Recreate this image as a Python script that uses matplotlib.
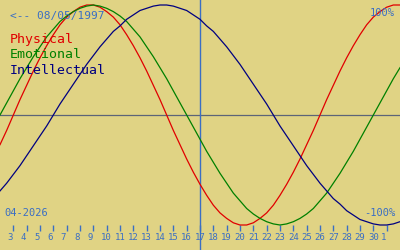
import numpy as np
import matplotlib
matplotlib.use("Agg")
import matplotlib.pyplot as plt

# sample positions: April 2026, every half day from the 2nd to May 2nd (=32)
days = np.arange(2, 32.5, 0.5)

physical = [-0.27, -0.14, 0.0,
            0.14, 0.27, 0.40, 0.52, 0.63, 0.73, 0.82, 0.89, 0.94, 0.98, 1.00,
            1.00, 0.98, 0.94, 0.89, 0.82, 0.73, 0.63, 0.52, 0.40, 0.27, 0.14,
            0.0,
            -0.14, -0.27, -0.40, -0.52, -0.63, -0.73, -0.82, -0.89, -0.94, -0.98, -1.00,
            -1.00, -0.98, -0.94, -0.89, -0.82, -0.73, -0.63, -0.52, -0.40, -0.27, -0.14,
            0.0,
            0.14, 0.27, 0.40, 0.52, 0.63, 0.73, 0.82, 0.89, 0.94, 0.98, 1.00, 1.00]

emotional = [0.0,
             0.11, 0.22, 0.33, 0.43, 0.53, 0.62, 0.71, 0.78, 0.85, 0.90, 0.94, 0.97, 0.99, 1.00,
             0.99, 0.97, 0.94, 0.90, 0.85, 0.78, 0.71, 0.62, 0.53, 0.43, 0.33, 0.22, 0.11,
             0.0,
             -0.11, -0.22, -0.33, -0.43, -0.53, -0.62, -0.71, -0.78, -0.85, -0.90, -0.94, -0.97, -0.99, -1.00,
             -0.99, -0.97, -0.94, -0.90, -0.85, -0.78, -0.71, -0.62, -0.53, -0.43, -0.33, -0.22, -0.11,
             0.0,
             0.11, 0.22, 0.33, 0.43]

intellectual = [-0.69, -0.62, -0.54, -0.46, -0.37, -0.28, -0.19, -0.10,
                0.0,
                0.10, 0.19, 0.28, 0.37, 0.46, 0.54, 0.62, 0.69, 0.76, 0.81, 0.87, 0.91, 0.95, 0.97, 0.99, 1.00,
                1.00, 0.99, 0.97, 0.95, 0.91, 0.87, 0.81, 0.76, 0.69, 0.62, 0.54, 0.46, 0.37, 0.28, 0.19, 0.10,
                0.0,
                -0.10, -0.19, -0.28, -0.37, -0.46, -0.54, -0.62, -0.69, -0.76, -0.81, -0.87, -0.91, -0.95, -0.97,
                -0.99, -1.00, -1.00, -0.99, -0.97]

tick_days = list(range(3, 32))
tick_labels = [str(d) if d <= 30 else str(d - 30) for d in tick_days]
today = 17
birth_label = "<-- 08/05/1997"
month_label = "04-2026"

BG = "#e0d384"
TXT = "#3a6ec4"
MONO = "DejaVu Sans Mono"


def px(x, y):
    # pixel position in the 400x250 picture -> axes fraction
    return x / 400, 1 - y / 250


fig = plt.figure(figsize=(4, 2.5), dpi=100)
fig.patch.set_facecolor(BG)
ax = fig.add_axes([0, 0, 1, 1])
ax.set_facecolor(BG)
ax.set_xlim(2, 32)
ax.set_ylim(-135 / 110, 115 / 110)

ax.axhline(0, color="#5c6478", lw=0.9)
ax.axvline(today, color=TXT, lw=1.0)

ax.plot(days, physical, color="#e00000", lw=0.9)
ax.plot(days, emotional, color="#008000", lw=0.9)
ax.plot(days, intellectual, color="#000080", lw=0.9)

for s in ax.spines.values():
    s.set_visible(False)
ax.spines["bottom"].set_position(("data", -1.0))
ax.set_yticks([])
ax.set_xticks(tick_days)
ax.set_xticklabels([f"{l:<2}" for l in tick_labels], fontfamily=MONO, fontsize=6.5, color=TXT)
ax.tick_params(axis="x", direction="out", length=4.5, width=1, color=TXT, pad=1.5)

ax.text(*px(10, 19.5), birth_label, transform=ax.transAxes, fontsize=8,
        fontfamily=MONO, color=TXT, va="baseline", ha="left")
ax.text(*px(10, 42.5), "Physical", transform=ax.transAxes, fontsize=9.5,
        fontfamily=MONO, color="#e00000", va="baseline")
ax.text(*px(10, 58), "Emotional", transform=ax.transAxes, fontsize=9.5,
        fontfamily=MONO, color="#008000", va="baseline")
ax.text(*px(10, 73.5), "Intellectual", transform=ax.transAxes, fontsize=9.5,
        fontfamily=MONO, color="#000080", va="baseline")
ax.text(*px(395, 16), "100%", transform=ax.transAxes, fontsize=7.5,
        fontfamily=MONO, color=TXT, va="baseline", ha="right")
ax.text(*px(395, 216), "-100%", transform=ax.transAxes, fontsize=7.5,
        fontfamily=MONO, color=TXT, va="baseline", ha="right")
ax.text(*px(4, 216), month_label, transform=ax.transAxes, fontsize=7.5,
        fontfamily=MONO, color=TXT, va="baseline", ha="left")

fig.savefig("out.png", dpi=100, facecolor=BG)
